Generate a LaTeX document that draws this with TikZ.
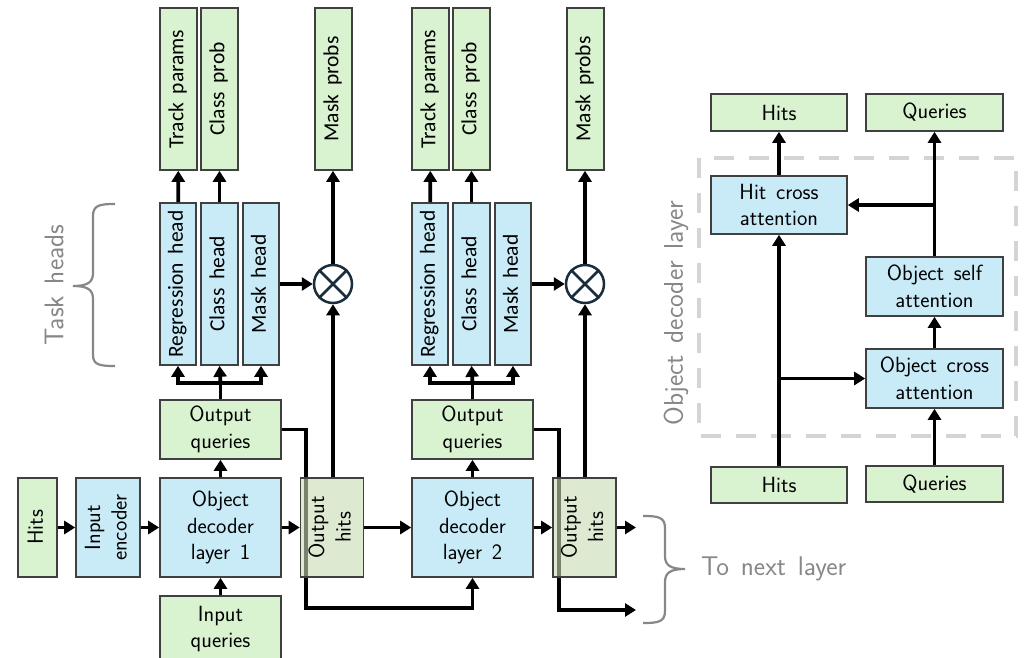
\documentclass[tikz,border=0pt]{standalone}
\usepackage{fontspec}
\usetikzlibrary{arrows.meta,calc}
\setsansfont[WordSpace=1.4]{Latin Modern Sans}
\newfontfamily\carl[WordSpace=1.8]{Carlito}
\definecolor{gfill}{RGB}{217,242,208}
\definecolor{bfill}{RGB}{201,235,248}
\definecolor{bord}{RGB}{64,64,64}
\definecolor{ohfill}{RGB}{200,218,180}
\definecolor{lblgray}{RGB}{135,135,135}
\definecolor{dashgray}{RGB}{212,212,212}
\definecolor{circcol}{RGB}{25,45,60}
\newcommand{\rottxt}[1]{\rotatebox{90}{\begin{tabular}{@{}c@{}}#1\end{tabular}}}
\begin{document}
\begin{tikzpicture}[x=1pt,y=-1pt,
  box/.style={draw=bord, line width=1.6pt, inner sep=0pt, align=center,
    font=\sffamily\fontsize{22}{26.5}\selectfont},
  gbox/.style={box, fill=gfill},
  bbox/.style={box, fill=bfill},
  ohbox/.style={box, fill=ohfill, fill opacity=0.6, text opacity=1, minimum width=63pt, minimum height=99pt},
  headbox/.style={box, fill=bfill, minimum width=36pt, minimum height=162pt, font=\carl\fontsize{21.5}{24}\selectfont},
  outbox/.style={box, fill=gfill, minimum width=37pt, minimum height=162pt, font=\carl\fontsize{21.5}{24}\selectfont},
  decbox/.style={bbox, minimum width=121pt, minimum height=99pt},
  oqbox/.style={gbox, minimum width=121pt, minimum height=59pt},
  rbox/.style={minimum width=137pt},
  otimes/.style={circle, draw=circcol, line width=2.5pt, fill=white, minimum size=38pt, inner sep=0pt},
  ln/.style={line width=3.8pt},
  arr/.style={line width=3.8pt, -{Triangle[length=11pt,width=13pt]}},
  bracestyle/.style={draw=lblgray, line width=2.2pt},
  lbl/.style={text=lblgray, inner sep=0pt, font=\sffamily\fontsize{27}{30}\selectfont}]
\useasboundingbox (0,0) rectangle (1025,658);

% ---------- left part: inputs ----------
\node[gbox, minimum width=39pt, minimum height=99pt] (hitsL) at (37.5,527.5) {\rottxt{Hits}};
\node[bbox, minimum width=64pt, minimum height=99pt] (enc) at (108,527.5) {\rottxt{Input\\encoder}};
\node[gbox, minimum width=121pt, minimum height=66pt] (iq) at (220.5,629) {Input\\queries};

% ---------- block 1 ----------
\node[decbox] (dec1) at (220.5,527.5) {Object\\decoder\\layer 1};
\node[oqbox] (oq1) at (220.5,429.5) {Output\\queries};
\node[headbox] (reg1) at (178,284) {\rottxt{Regression head}};
\node[headbox, minimum width=37pt] (cls1) at (219.5,284) {\rottxt{Class head}};
\node[headbox] (mask1) at (261,284) {\rottxt{Mask head}};
\node[outbox] (tp1) at (178.5,89) {\rottxt{Track params}};
\node[outbox] (cp1) at (219.5,89) {\rottxt{Class prob}};
\node[outbox] (mp1) at (333.5,89) {\rottxt{Mask probs}};
\node[otimes] (ot1) at (333,284) {};
\draw[circcol, line width=2.5pt] (ot1.north east) -- (ot1.south west) (ot1.north west) -- (ot1.south east);

% ---------- block 2 ----------
\node[decbox] (dec2) at (472.5,527.5) {Object\\decoder\\layer 2};
\node[oqbox] (oq2) at (472.5,429.5) {Output\\queries};
\node[headbox] (reg2) at (430,284) {\rottxt{Regression head}};
\node[headbox, minimum width=37pt] (cls2) at (471.5,284) {\rottxt{Class head}};
\node[headbox] (mask2) at (513,284) {\rottxt{Mask head}};
\node[outbox] (tp2) at (430.5,89) {\rottxt{Track params}};
\node[outbox] (cp2) at (471.5,89) {\rottxt{Class prob}};
\node[outbox] (mp2) at (585.5,89) {\rottxt{Mask probs}};
\node[otimes] (ot2) at (585,284) {};
\draw[circcol, line width=2.5pt] (ot2.north east) -- (ot2.south west) (ot2.north west) -- (ot2.south east);

% ---------- lines passing behind output-hits boxes ----------
\coordinate (c1) at (306,608);
\coordinate (c2) at (559,610);
\coordinate (nx1) at (636,527.5);
\coordinate (nx2) at (636,610);
\draw[arr] (oq1.east) -| (c1) -| (dec2.south);
\draw[arr] (oq2.east) -| (c2) -- (nx2);

\node[ohbox] (oh1) at (332,527.5) {\rottxt{Output\\hits}};
\node[ohbox] (oh2) at (584.5,527.5) {\rottxt{Output\\hits}};

% ---------- connectors left part ----------
\draw[arr] (hitsL) -- (enc);
\draw[arr] (enc) -- (dec1);
\draw[arr] (iq) -- (dec1);
\draw[arr] (dec1) -- (oq1);
\draw[arr] (dec1) -- (oh1);
\draw[arr] (oh1) -- (dec2);
\draw[arr] (dec2) -- (oq2);
\draw[arr] (dec2) -- (oh2);
\draw[arr] (oh2) -- (nx1);

\coordinate (br1) at (220.5,383);
\draw[ln] (oq1.north) -- (br1);
\draw[arr] (br1) -| (reg1.south);
\draw[arr] (br1) -| (mask1.south);
\draw[arr] (br1) -- (cls1.south);
\draw[arr] (reg1) -- (tp1);
\draw[arr] (cls1) -- (cp1);
\draw[arr] (mask1) -- (ot1);
\draw[arr] (ot1.north) -- (ot1.north |- mp1.south);
\draw[arr] (ot1.south |- oh1.north) -- (ot1.south);

\coordinate (br2) at (472.5,383);
\draw[ln] (oq2.north) -- (br2);
\draw[arr] (br2) -| (reg2.south);
\draw[arr] (br2) -| (mask2.south);
\draw[arr] (br2) -- (cls2.south);
\draw[arr] (reg2) -- (tp2);
\draw[arr] (cls2) -- (cp2);
\draw[arr] (mask2) -- (ot2);
\draw[arr] (ot2.north) -- (ot2.north |- mp2.south);
\draw[arr] (ot2.south |- oh2.north) -- (ot2.south);

% ---------- braces and labels ----------
\draw[bracestyle] (115,204) .. controls (100,204) and (93,205) .. (93,216) -- (93,273)
  .. controls (93,282) and (88,286) .. (73,286) .. controls (88,286) and (93,290) .. (93,299)
  -- (93,355) .. controls (93,365) and (100,366) .. (115,366);
\node[lbl, rotate=90] (taskheads) at (54,285) {Task heads};

\draw[bracestyle] (643,516) .. controls (658,516) and (665,517) .. (665,528) -- (665,556)
  .. controls (665,565) and (670,569) .. (685,569) .. controls (670,569) and (665,573) .. (665,582)
  -- (665,611) .. controls (665,622) and (658,623) .. (643,623);
\node[lbl, anchor=west] (nextlayer) at (701,569) {To next layer};

% ---------- right part ----------
\draw[dashgray, line width=4pt, dash pattern=on 20pt off 15pt] (699,158) rectangle (1016,436);
\node[lbl, rotate=90] (odl) at (676,313) {Object decoder layer};

\node[gbox, minimum width=136pt, minimum height=37pt] (hitsT) at (779,112.5) {Hits};
\node[gbox, rbox, minimum height=37pt] (qT) at (934.5,112.5) {Queries};
\node[bbox, minimum width=136pt, minimum height=58pt] (hca) at (779,205) {Hit cross\\attention};
\node[bbox, rbox, minimum height=59pt] (osa) at (934.5,286.5) {Object self\\attention};
\node[bbox, rbox, minimum height=59pt] (oca) at (934.5,378.5) {Object cross\\attention};
\node[gbox, minimum width=136pt, minimum height=36pt] (hitsB) at (779,485) {Hits};
\node[gbox, rbox, minimum height=36pt] (qB) at (934.5,484) {Queries};

\draw[arr] (hitsB) -- (hca);
\draw[arr] (hitsB.north |- oca.west) -- (oca.west);
\draw[arr] (qB) -- (oca);
\draw[arr] (oca) -- (osa);
\draw[arr] (osa) -- (qT);
\draw[arr] (osa.north |- hca.east) -- (hca.east);
\draw[arr] (hca) -- (hitsT);
\end{tikzpicture}
\end{document}
